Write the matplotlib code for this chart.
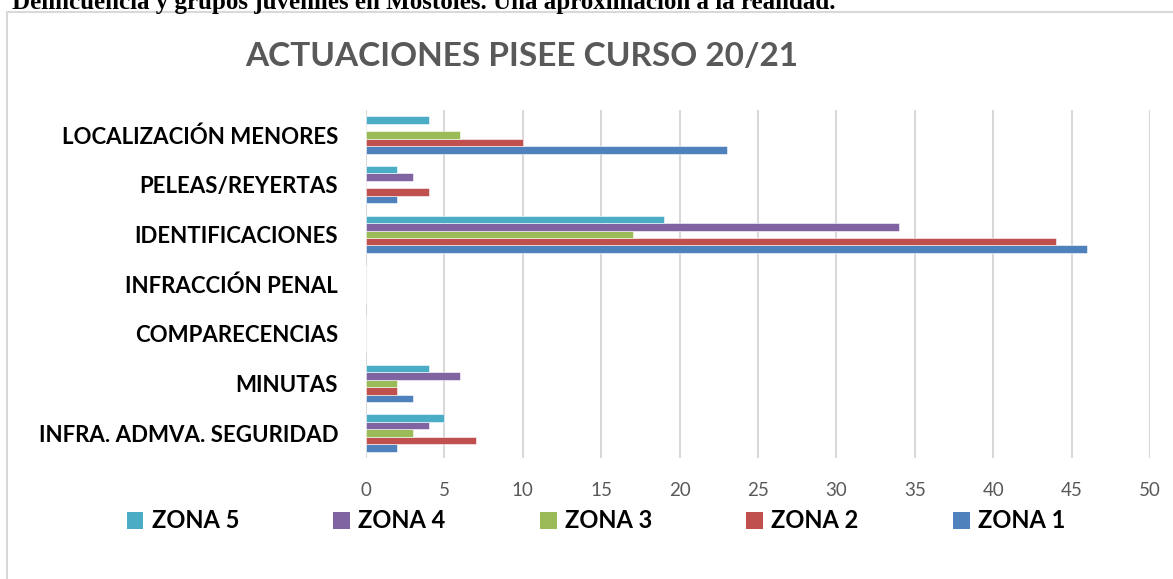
import matplotlib
matplotlib.use("Agg")
import matplotlib.pyplot as plt
import numpy as np
from matplotlib.patches import Rectangle, Patch

categories = ["INFRA. ADMVA. SEGURIDAD", "MINUTAS", "COMPARECENCIAS",
              "INFRACCIÓN PENAL", "IDENTIFICACIONES", "PELEAS/REYERTAS",
              "LOCALIZACIÓN MENORES"]
zona1 = [2, 3, 0, 0, 46, 2, 23]
zona2 = [7, 2, 0, 0, 44, 4, 10]
zona3 = [3, 2, 0, 0, 17, 0, 6]
zona4 = [4, 6, 0, 0, 34, 3, 0]
zona5 = [5, 4, 0, 0, 19, 2, 4]
series = [("ZONA 1", zona1, "#4f81bd"), ("ZONA 2", zona2, "#c0504d"),
          ("ZONA 3", zona3, "#9bbb59"), ("ZONA 4", zona4, "#8064a2"),
          ("ZONA 5", zona5, "#4bacc6")]
xticks = list(range(0, 55, 5))

FONT = ["Lato", "DejaVu Sans"]
plt.rcParams["font.family"] = FONT

W, H = 1173, 579
fig = plt.figure(figsize=(W / 100, H / 100), dpi=100)
fig.patch.set_facecolor("white")

# outer chart frame (runs off the right/bottom of the page crop)
fig.patches.append(Rectangle((7 / W, -0.05), 1.1, 1 - 12 / H + 0.05,
                             transform=fig.transFigure, fill=False,
                             ec="#d9d9d9", lw=1.5))

# page header, cut at the top of the crop
fig.text(12 / W, 1 - 9 / H,
         "Delincuencia y grupos juveniles en Móstoles. Una aproximación a la realidad.",
         family="Liberation Serif", fontweight="bold", fontsize=18,
         ha="left", va="baseline", color="black")

ax = fig.add_axes([366 / W, 1 - 458 / H, (1150 - 366) / W, (458 - 110) / H])
y = np.arange(len(categories))
bh = 0.15
for i, (name, vals, col) in enumerate(series):
    ax.barh(y + (i - 2) * bh, vals, height=bh, color=col, edgecolor="white",
            linewidth=0.4, zorder=3)

ax.set_xlim(0, 50)
ax.set_ylim(-0.5, len(categories) - 0.5)
ax.set_xticks(xticks)
ax.set_xticklabels([str(t) for t in xticks], fontsize=13.5, color="#595959")
ax.set_yticks(y)
ax.set_yticklabels(categories, fontsize=16, fontweight="bold", color="black")
ax.tick_params(axis="both", length=0)
ax.tick_params(axis="x", pad=17)
ax.tick_params(axis="y", pad=20)
ax.grid(axis="x", color="#d9d9d9", lw=1.5, zorder=0)
for s in ax.spines.values():
    s.set_visible(False)

fig.text(522 / W, 1 - 57 / H, "ACTUACIONES PISEE CURSO 20/21", fontsize=24,
         fontweight="bold", color="#595959", ha="center", va="center")

handles = [Patch(facecolor=c, edgecolor="none") for _, _, c in series[::-1]]
labels = [n for n, _, _ in series[::-1]]
fig.legend(handles, labels, loc="center", bbox_to_anchor=(596 / W, 1 - 521 / H),
           ncol=5, frameon=False, prop={"family": FONT, "weight": "bold", "size": 17},
           handlelength=0.7, handleheight=0.7, handletextpad=0.35,
           columnspacing=4.0)

fig.savefig("out.png", dpi=100, facecolor="white")
